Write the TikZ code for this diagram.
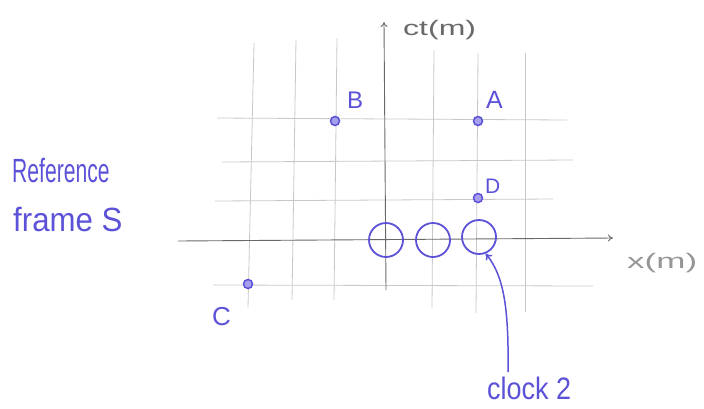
\documentclass[tikz,border=0pt]{standalone}
\usepackage{fontspec}
\setmainfont{Liberation Sans}
\usetikzlibrary{arrows.meta}
\definecolor{pen}{RGB}{92,82,215}
\definecolor{gridc}{RGB}{200,200,200}
\definecolor{axisc}{RGB}{105,105,105}
\tikzset{
  gridline/.style={draw=gridc,line width=0.8pt},
  axisline/.style={draw=axisc,line width=0.9pt,-{To[length=5pt,width=7pt]}},
  event/.style={circle,draw=pen,fill=pen!55,line width=1.5pt,minimum size=9pt,inner sep=0pt},
  clockc/.style={circle,draw=pen,line width=1.8pt,minimum size=34pt,inner sep=0pt},
  pentext/.style={text=pen,inner sep=0pt},
  axtext/.style={text=axisc,inner sep=0pt},
}
\begin{document}
\begin{tikzpicture}[x=1pt,y=-1pt]
\useasboundingbox (0,0) rectangle (704,408);
% grid
\draw[gridline] (254,43) -- (248,307);
\draw[gridline] (296,40) -- (292,300);
\draw[gridline] (337,38) -- (334,300);
\draw[gridline] (434,50) -- (432,308);
\draw[gridline] (478,53) -- (476,313);
\draw[gridline] (525,53) -- (525,312);
\draw[gridline] (217,118) -- (567,120);
\draw[gridline] (222,162) -- (573,160);
\draw[gridline] (215,201) -- (553,199);
\draw[gridline] (213,285) -- (593,286);
% axes
\coordinate (yb) at (386,290);
\coordinate (yt) at (384,22);
\coordinate (xl) at (178,241);
\coordinate (xr) at (613,238);
\draw[axisline] (yb) -- (yt);
\draw[axisline] (xl) -- (xr);
\node[axtext,anchor=base west] (ct) at (403,35) {\fontsize{20}{22}\selectfont\scalebox{1.6}[1.05]{ct(m)}};
\node[axtext,anchor=base west,text=axisc!70] (xm) at (627,268) {\fontsize{20}{22}\selectfont\scalebox{1.75}[1.05]{x(m)}};
% clocks
\node[clockc] (c1) at (386,240) {};
\node[clockc] (c2) at (433,240) {};
\node[clockc] (c3) at (479,237) {};
% events
\node[event] (B) at (335,121) {};
\node[event] (A) at (478,121) {};
\node[event] (D) at (478,198) {};
\node[event] (C) at (248,284) {};
\node[pentext,anchor=base west] (Bl) at (347,108) {\fontsize{24}{26}\selectfont B};
\node[pentext,anchor=base west] (Al) at (486,108) {\fontsize{25}{27}\selectfont A};
\node[pentext,anchor=base west] (Dl) at (485,193) {\fontsize{21}{23}\selectfont D};
\node[pentext,anchor=base west] (Cl) at (212,325) {\fontsize{26}{28}\selectfont C};
% frame label
\node[pentext,anchor=base west] (ref) at (12,182) {\fontsize{24}{26}\selectfont\scalebox{0.88}[1.4]{Reference}};
\node[pentext,anchor=base west] (frm) at (13,231) {\fontsize{24}{26}\selectfont\scalebox{1.3}[1.4]{frame S}};
% clock 2 label
\node[pentext,anchor=base west] (clk) at (487,399) {\fontsize{27}{29}\selectfont\scalebox{1}[1.15]{clock 2}};
\coordinate (tail) at (508,372);
\draw[pen,line width=1.5pt,-{To[length=6pt,width=8pt]}] (tail) .. controls (509,305) and (503,275) .. (c3.-68);
\end{tikzpicture}
\end{document}
